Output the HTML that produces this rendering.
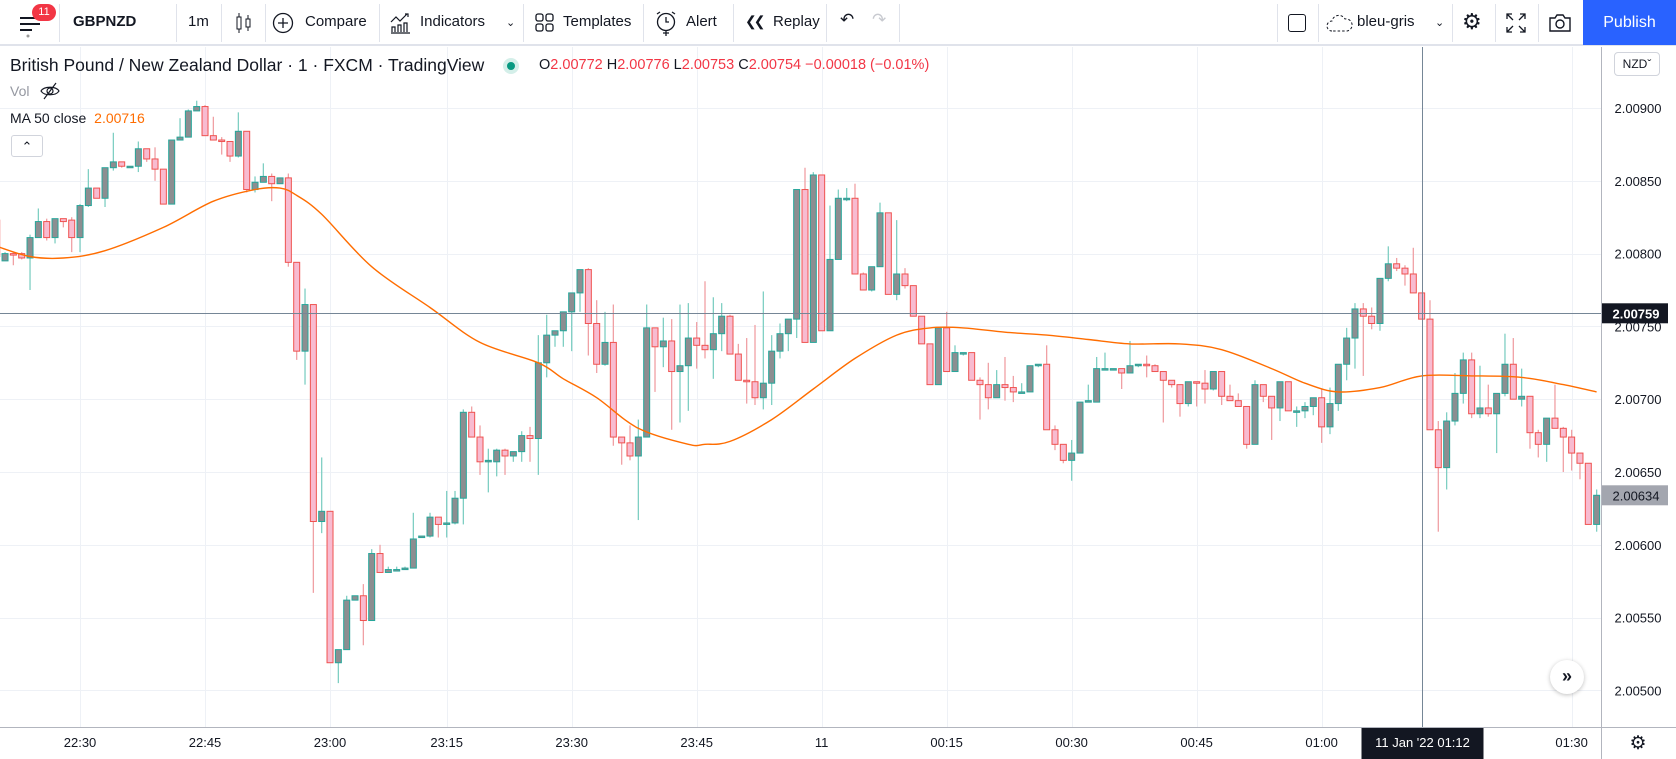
<!DOCTYPE html>
<html><head><meta charset="utf-8"><style>
*{margin:0;padding:0;box-sizing:border-box}
body{width:1676px;height:759px;overflow:hidden;background:#fff;font-family:"Liberation Sans",sans-serif;color:#131722;position:relative}
.tb{position:absolute;left:0;top:0;width:1676px;height:46px;border-bottom:2px solid #e0e3eb;background:#fff}
.sep{position:absolute;top:4px;width:1px;height:38px;background:#e0e3eb}
.t{position:absolute;top:13px;font-size:15px;white-space:nowrap}
.ic{position:absolute}
</style></head><body>
<div class="tb">
  <svg class="ic" style="left:18px;top:12px" width="24" height="26"><path d="M2 6h16M2 12h20M2 18h12" stroke="#131722" stroke-width="2"/><circle cx="10" cy="24" r="1.5" fill="#999"/></svg>
  <div style="position:absolute;left:32px;top:4px;width:24px;height:17px;border-radius:9px;background:#f23645;color:#fff;font-size:11px;text-align:center;line-height:17px">11</div>
  <div class="sep" style="left:59px"></div>
  <div class="t" style="left:73px;font-weight:bold">GBPNZD</div>
  <div class="sep" style="left:176px"></div>
  <div class="t" style="left:188px">1m</div>
  <div class="sep" style="left:221px"></div>
  <svg class="ic" style="left:234px;top:12px" width="20" height="22"><rect x="3" y="5" width="4" height="12" fill="none" stroke="#131722"/><path d="M5 1v4M5 17v4M14 3v4M14 15v4" stroke="#131722"/><rect x="12" y="7" width="4" height="8" fill="none" stroke="#131722"/></svg>
  <div class="sep" style="left:265px"></div>
  <svg class="ic" style="left:272px;top:12px" width="22" height="22"><circle cx="11" cy="11" r="9.5" fill="none" stroke="#131722" stroke-width="1.3"/><path d="M11 6v10M6 11h10" stroke="#131722" stroke-width="1.3"/></svg>
  <div class="t" style="left:305px">Compare</div>
  <div class="sep" style="left:379px"></div>
  <svg class="ic" style="left:390px;top:12px" width="22" height="22"><path d="M1 10l5-5 4 4 7-7M15 2h3v3" stroke="#131722" fill="none" stroke-width="1.2"/><path d="M2 20v-5h3v5M8 20v-7h3v7M14 20v-9h3v9M1 21h19" stroke="#131722" fill="none" stroke-width="1.2"/></svg>
  <div class="t" style="left:420px">Indicators</div>
  <div class="t" style="left:506px;font-size:11px;top:16px">&#8964;</div>
  <div class="sep" style="left:523px"></div>
  <svg class="ic" style="left:535px;top:13px" width="20" height="20"><rect x="1" y="1" width="7" height="7" rx="2" fill="none" stroke="#131722" stroke-width="1.3"/><rect x="11" y="1" width="7" height="7" rx="2" fill="none" stroke="#131722" stroke-width="1.3"/><rect x="1" y="11" width="7" height="7" rx="2" fill="none" stroke="#131722" stroke-width="1.3"/><rect x="11" y="11" width="7" height="7" rx="2" fill="none" stroke="#131722" stroke-width="1.3"/></svg>
  <div class="t" style="left:563px">Templates</div>
  <div class="sep" style="left:643px"></div>
  <svg class="ic" style="left:655px;top:11px" width="24" height="26"><circle cx="11" cy="11" r="8.5" fill="none" stroke="#131722" stroke-width="1.3"/><path d="M11 6v5h3M2 3l3-2M20 3l-3-2M11 19v6M8 22h6" stroke="#131722" fill="none" stroke-width="1.3"/></svg>
  <div class="t" style="left:686px">Alert</div>
  <div class="sep" style="left:733px"></div>
  <div class="t" style="left:745px;font-size:14px;letter-spacing:-3px">&#10094;&#10094;</div>
  <div class="t" style="left:773px">Replay</div>
  <div class="sep" style="left:826px"></div>
  <div class="t" style="left:840px;font-size:17px;top:10px">&#8630;</div>
  <div class="t" style="left:872px;font-size:17px;top:10px;color:#c8cad0">&#8631;</div>
  <div class="sep" style="left:899px"></div>
  <div class="sep" style="left:1277px"></div>
  <div style="position:absolute;left:1288px;top:14px;width:18px;height:18px;border:1.5px solid #131722;border-radius:3px"></div>
  <div class="sep" style="left:1318px"></div>
  <svg class="ic" style="left:1326px;top:12px" width="28" height="22"><path d="M6 19a5 5 0 0 1 0-10a7 7 0 0 1 13-2a6 6 0 0 1 2 12z" fill="none" stroke="#131722" stroke-dasharray="2.5 2"/></svg>
  <div class="t" style="left:1357px">bleu-gris</div>
  <div class="t" style="left:1435px;font-size:11px;top:16px">&#8964;</div>
  <div class="sep" style="left:1452px"></div>
  <div class="t" style="left:1462px;font-size:22px;top:9px">&#9881;</div>
  <div class="sep" style="left:1495px"></div>
  <svg class="ic" style="left:1506px;top:13px" width="20" height="20"><path d="M1 6V1h5M14 1h5v5M19 14v5h-5M6 19H1v-5M1 1l6 6M19 1l-6 6M19 19l-6-6M1 19l6-6" stroke="#131722" fill="none" stroke-width="1.3"/></svg>
  <div class="sep" style="left:1538px"></div>
  <svg class="ic" style="left:1548px;top:12px" width="24" height="22"><path d="M2 6h5l2-3h6l2 3h5v13H2z" fill="none" stroke="#131722" stroke-width="1.4"/><circle cx="12" cy="12" r="4" fill="none" stroke="#131722" stroke-width="1.4"/></svg>
  <div style="position:absolute;left:1583px;top:0;width:93px;height:45px;background:#2962ff;color:#fff;font-size:16px;text-align:center;line-height:45px">Publish</div>
</div>

<svg id="chart" style="position:absolute;left:0;top:47px" width="1676" height="712"></svg>

<div style="position:absolute;left:10px;top:55px;font-size:17.5px;color:#131722;white-space:nowrap">British Pound / New Zealand Dollar · 1 · FXCM · TradingView</div>
<div style="position:absolute;left:503px;top:58px;width:16px;height:16px;border-radius:8px;background:#d4efe9"><div style="margin:4px;width:8px;height:8px;border-radius:4px;background:#089981"></div></div>
<div style="position:absolute;left:539px;top:57px;font-size:14.5px;color:#f23645;white-space:nowrap"><span style="color:#131722">O</span>2.00772 <span style="color:#131722">H</span>2.00776 <span style="color:#131722">L</span>2.00753 <span style="color:#131722">C</span>2.00754 −0.00018 (−0.01%)</div>
<div style="position:absolute;left:10px;top:83px;font-size:14px;color:#9598a1">Vol</div>
<svg style="position:absolute;left:40px;top:82px" width="20" height="18"><path d="M1 9c3-5 15-5 18 0c-3 5-15 5-18 0z" fill="none" stroke="#131722" stroke-width="1.2"/><circle cx="10" cy="9" r="3" fill="none" stroke="#131722" stroke-width="1.2"/><path d="M4 17L16 1" stroke="#131722" stroke-width="1.2"/></svg>
<div style="position:absolute;left:10px;top:110px;font-size:14px;white-space:nowrap">MA 50 close <span style="color:#ff6d00;margin-left:4px">2.00716</span></div>
<div style="position:absolute;left:11px;top:135px;width:32px;height:22px;border:1px solid #d1d4dc;border-radius:3px;background:#fff;text-align:center;font-size:13px;line-height:22px">&#8963;</div>
<div style="position:absolute;left:1614px;top:52px;width:46px;height:24px;border:1px solid #d1d4dc;border-radius:4px;background:#fff;font-size:12px;line-height:22px;text-align:center">NZD&#711;</div>
<div style="position:absolute;left:1550px;top:660px;width:34px;height:34px;border-radius:17px;background:#fff;box-shadow:0 1px 4px rgba(0,0,0,.25);text-align:center;line-height:32px;font-size:18px;font-weight:bold;color:#131722">&#187;</div>

<script>
const opens=[2.00823,2.00795,2.00800,2.00800,2.00797,2.00811,2.00822,2.00811,2.00824,2.00823,2.00811,2.00833,2.00845,2.00838,2.00859,2.00863,2.00860,2.00860,2.00872,2.00865,2.00858,2.00834,2.00878,2.00880,2.00898,2.00901,2.00881,2.00878,2.00877,2.00867,2.00884,2.00844,2.00849,2.00853,2.00848,2.00852,2.00794,2.00733,2.00765,2.00616,2.00623,2.00519,2.00528,2.00562,2.00565,2.00548,2.00594,2.00581,2.00583,2.00583,2.00584,2.00605,2.00606,2.00619,2.00614,2.00615,2.00632,2.00691,2.00674,2.00657,2.00657,2.00665,2.00661,2.00664,2.00675,2.00673,2.00725,2.00744,2.00747,2.00760,2.00773,2.00789,2.00752,2.00724,2.00739,2.00674,2.00670,2.00661,2.00674,2.00749,2.00736,2.00740,2.00719,2.00723,2.00742,2.00737,2.00734,2.00745,2.00757,2.00731,2.00713,2.00712,2.00701,2.00711,2.00733,2.00745,2.00755,2.00844,2.00739,2.00854,2.00747,2.00796,2.00838,2.00838,2.00786,2.00775,2.00791,2.00828,2.00772,2.00786,2.00778,2.00757,2.00738,2.00710,2.00749,2.00719,2.00732,2.00732,2.00713,2.00710,2.00701,2.00710,2.00708,2.00705,2.00705,2.00723,2.00724,2.00679,2.00669,2.00658,2.00663,2.00698,2.00698,2.00721,2.00721,2.00721,2.00718,2.00723,2.00724,2.00723,2.00719,2.00713,2.00710,2.00697,2.00712,2.00711,2.00707,2.00719,2.00702,2.00699,2.00695,2.00669,2.00710,2.00702,2.00694,2.00712,2.00692,2.00692,2.00695,2.00701,2.00681,2.00697,2.00724,2.00742,2.00762,2.00757,2.00752,2.00783,2.00793,2.00790,2.00786,2.00773,2.00755,2.00679,2.00653,2.00685,2.00704,2.00727,2.00690,2.00694,2.00690,2.00704,2.00724,2.00700,2.00702,2.00677,2.00669,2.00687,2.00680,2.00674,2.00663,2.00656,2.00614];
const highs=[2.00825,2.00801,2.00801,2.00801,2.00813,2.00831,2.00824,2.00824,2.00824,2.00825,2.00834,2.00858,2.00845,2.00859,2.00883,2.00863,2.00860,2.00877,2.00872,2.00873,2.00858,2.00878,2.00893,2.00899,2.00905,2.00902,2.00894,2.00880,2.00877,2.00897,2.00884,2.00853,2.00862,2.00855,2.00852,2.00855,2.00794,2.00776,2.00765,2.00660,2.00623,2.00528,2.00565,2.00565,2.00573,2.00597,2.00600,2.00585,2.00585,2.00585,2.00622,2.00606,2.00622,2.00619,2.00637,2.00637,2.00693,2.00695,2.00682,2.00666,2.00666,2.00666,2.00664,2.00678,2.00681,2.00744,2.00758,2.00747,2.00760,2.00773,2.00789,2.00790,2.00768,2.00760,2.00765,2.00674,2.00682,2.00686,2.00765,2.00749,2.00756,2.00755,2.00765,2.00766,2.00753,2.00781,2.00770,2.00766,2.00758,2.00738,2.00742,2.00751,2.00774,2.00744,2.00752,2.00755,2.00844,2.00859,2.00856,2.00854,2.00833,2.00844,2.00845,2.00848,2.00787,2.00791,2.00835,2.00828,2.00823,2.00790,2.00778,2.00757,2.00738,2.00749,2.00760,2.00737,2.00732,2.00732,2.00715,2.00725,2.00720,2.00729,2.00716,2.00711,2.00723,2.00724,2.00737,2.00682,2.00669,2.00672,2.00698,2.00710,2.00729,2.00732,2.00721,2.00721,2.00740,2.00724,2.00730,2.00724,2.00719,2.00713,2.00710,2.00712,2.00712,2.00720,2.00719,2.00719,2.00710,2.00704,2.00695,2.00713,2.00710,2.00702,2.00712,2.00712,2.00695,2.00698,2.00701,2.00707,2.00708,2.00724,2.00749,2.00766,2.00766,2.00763,2.00783,2.00805,2.00797,2.00792,2.00804,2.00773,2.00768,2.00685,2.00691,2.00718,2.00732,2.00732,2.00723,2.00710,2.00704,2.00745,2.00742,2.00721,2.00702,2.00679,2.00687,2.00710,2.00681,2.00679,2.00663,2.00656,2.00638];
const lows=[2.00795,2.00795,2.00792,2.00796,2.00775,2.00811,2.00809,2.00807,2.00818,2.00801,2.00801,2.00832,2.00838,2.00832,2.00857,2.00859,2.00860,2.00856,2.00863,2.00850,2.00834,2.00834,2.00878,2.00880,2.00898,2.00881,2.00878,2.00868,2.00863,2.00866,2.00842,2.00842,2.00849,2.00836,2.00848,2.00791,2.00727,2.00710,2.00567,2.00608,2.00519,2.00505,2.00528,2.00562,2.00531,2.00548,2.00581,2.00581,2.00583,2.00583,2.00584,2.00605,2.00605,2.00605,2.00605,2.00614,2.00614,2.00674,2.00648,2.00636,2.00647,2.00648,2.00657,2.00657,2.00657,2.00648,2.00715,2.00736,2.00736,2.00733,2.00760,2.00730,2.00718,2.00723,2.00668,2.00655,2.00658,2.00617,2.00674,2.00705,2.00722,2.00679,2.00684,2.00692,2.00721,2.00728,2.00714,2.00733,2.00731,2.00713,2.00697,2.00696,2.00693,2.00696,2.00728,2.00733,2.00742,2.00739,2.00739,2.00747,2.00747,2.00796,2.00836,2.00786,2.00775,2.00774,2.00791,2.00772,2.00768,2.00776,2.00757,2.00738,2.00710,2.00710,2.00719,2.00719,2.00730,2.00713,2.00686,2.00693,2.00701,2.00699,2.00698,2.00705,2.00705,2.00722,2.00679,2.00665,2.00656,2.00644,2.00663,2.00698,2.00698,2.00720,2.00721,2.00707,2.00718,2.00722,2.00715,2.00719,2.00684,2.00708,2.00688,2.00695,2.00695,2.00697,2.00706,2.00696,2.00699,2.00695,2.00666,2.00669,2.00698,2.00672,2.00685,2.00692,2.00681,2.00687,2.00689,2.00670,2.00676,2.00692,2.00713,2.00721,2.00716,2.00748,2.00747,2.00781,2.00788,2.00778,2.00773,2.00755,2.00679,2.00609,2.00638,2.00682,2.00697,2.00687,2.00687,2.00688,2.00663,2.00702,2.00700,2.00695,2.00666,2.00660,2.00657,2.00680,2.00650,2.00651,2.00645,2.00614,2.00609];
const closes=[2.00798,2.00800,2.00799,2.00797,2.00811,2.00822,2.00811,2.00824,2.00822,2.00811,2.00833,2.00845,2.00838,2.00859,2.00863,2.00860,2.00860,2.00872,2.00865,2.00858,2.00834,2.00878,2.00880,2.00898,2.00901,2.00881,2.00878,2.00877,2.00867,2.00884,2.00844,2.00849,2.00853,2.00848,2.00852,2.00794,2.00733,2.00765,2.00616,2.00623,2.00519,2.00528,2.00562,2.00565,2.00548,2.00594,2.00581,2.00583,2.00583,2.00584,2.00604,2.00606,2.00619,2.00614,2.00615,2.00632,2.00691,2.00674,2.00657,2.00658,2.00665,2.00661,2.00664,2.00675,2.00673,2.00725,2.00744,2.00747,2.00760,2.00773,2.00789,2.00752,2.00724,2.00739,2.00674,2.00670,2.00661,2.00674,2.00749,2.00736,2.00740,2.00719,2.00723,2.00742,2.00737,2.00734,2.00745,2.00757,2.00731,2.00713,2.00712,2.00701,2.00711,2.00733,2.00745,2.00755,2.00844,2.00739,2.00854,2.00747,2.00796,2.00838,2.00838,2.00786,2.00775,2.00791,2.00828,2.00772,2.00786,2.00778,2.00757,2.00738,2.00710,2.00749,2.00719,2.00732,2.00732,2.00713,2.00710,2.00701,2.00710,2.00708,2.00705,2.00705,2.00723,2.00724,2.00679,2.00669,2.00658,2.00663,2.00698,2.00699,2.00721,2.00721,2.00721,2.00718,2.00723,2.00724,2.00723,2.00719,2.00713,2.00710,2.00697,2.00712,2.00711,2.00707,2.00719,2.00702,2.00699,2.00695,2.00669,2.00710,2.00702,2.00694,2.00712,2.00692,2.00692,2.00695,2.00701,2.00681,2.00697,2.00724,2.00742,2.00762,2.00757,2.00752,2.00783,2.00793,2.00790,2.00786,2.00773,2.00755,2.00679,2.00653,2.00685,2.00704,2.00727,2.00690,2.00694,2.00690,2.00704,2.00724,2.00700,2.00702,2.00677,2.00669,2.00687,2.00680,2.00674,2.00663,2.00656,2.00614,2.00634];
const maIndex=[0,4,8,13,20,26,31,34,36,39,45,52,58,65,68,72,77,83,85,88,93,98,103,108,112,116,121,126,131,136,142,147,153,157,161,166,171,177,183,188,192];
const maValues=[2.00805,2.00798,2.00797,2.00802,2.00818,2.00836,2.00844,2.00845,2.00840,2.00827,2.00791,2.00763,2.00739,2.00725,2.00714,2.00701,2.00680,2.00669,2.00669,2.00671,2.00686,2.00707,2.00728,2.00744,2.00749,2.00749,2.00746,2.00744,2.00741,2.00738,2.00738,2.00734,2.00721,2.00711,2.00705,2.00708,2.00716,2.00716,2.00715,2.00710,2.00705];
const priceTicks=[2.00900,2.00850,2.00800,2.00750,2.00700,2.00650,2.00600,2.00550,2.00500];
const timeLabels=["22:30","22:45","23:00","23:15","23:30","23:45","11","00:15","00:30","00:45","01:00","01:30"];
const timeLabelIndex=[10,25,40,54,69,84,99,114,129,144,159,189];
const crossPrice=2.00759, crossIndex=171, lastPrice=2.00634;

const OFF=47;
const yOf=p=>108-OFF+(2.009-p)/0.0005*72.8;
const xOf=i=>-3.3+i*8.333;
const NS="http://www.w3.org/2000/svg";
const svg=document.getElementById('chart');
function mk(tag,attrs){const e=document.createElementNS(NS,tag);for(const k in attrs)e.setAttribute(k,attrs[k]);return e;}
const PW=1601, AX=727-OFF;
const gGrid=mk('g',{});


svg.appendChild(gGrid);
for(let p=2.0095;p>=2.0045;p-=0.0005){const y=Math.round(yOf(p))+0.5;if(y<0||y>AX)continue;gGrid.appendChild(mk('line',{x1:0,x2:PW,y1:y,y2:y,stroke:'#eef1f6'}));}
timeLabelIndex.forEach(i=>{const x=Math.round(xOf(i))+0.5;gGrid.appendChild(mk('line',{x1:x,x2:x,y1:0,y2:AX,stroke:'#eef1f6'}));});
const gC=mk('g',{});


svg.appendChild(gC);
for(let i=0;i<opens.length;i++){
  const up=closes[i]>=opens[i];const x=xOf(i);
  const w=mk('line',{x1:x,x2:x,y1:yOf(highs[i]),y2:yOf(lows[i]),stroke:up?'#7fcfc3':'#f0a0a4','stroke-width':1.3});
  
  
  gC.appendChild(w);
  const yt=yOf(Math.max(opens[i],closes[i])),yb=yOf(Math.min(opens[i],closes[i]));
  const b=mk('rect',{x:x-3,y:yt,width:6,height:Math.max(1.5,yb-yt),fill:up?'#8c8e91':'#f8bbd0',stroke:up?'#26a69a':'#ef5350','stroke-width':1});
  
  
  gC.appendChild(b);
}
// MA line (smooth Catmull-Rom through read points)
const pts=maIndex.map((ix,k)=>[xOf(ix),yOf(maValues[k])]);
let d='M'+pts[0][0].toFixed(1)+' '+pts[0][1].toFixed(1);
for(let k=0;k<pts.length-1;k++){
  const p0=pts[Math.max(0,k-1)],p1=pts[k],p2=pts[k+1],p3=pts[Math.min(pts.length-1,k+2)];
  const c1x=p1[0]+(p2[0]-p0[0])/6,c1y=p1[1]+(p2[1]-p0[1])/6,c2x=p2[0]-(p3[0]-p1[0])/6,c2y=p2[1]-(p3[1]-p1[1])/6;
  d+='C'+c1x.toFixed(1)+' '+c1y.toFixed(1)+' '+c2x.toFixed(1)+' '+c2y.toFixed(1)+' '+p2[0].toFixed(1)+' '+p2[1].toFixed(1);
}
const ma=mk('path',{d:d,fill:'none',stroke:'#ff6d00','stroke-width':1.4,'stroke-linejoin':'round'});


svg.appendChild(ma);
const cy=Math.round(yOf(crossPrice))+0.5, cx=Math.round(xOf(crossIndex))+0.5;
const ch=mk('line',{x1:0,x2:PW,y1:cy,y2:cy,stroke:'#758696'});


svg.appendChild(ch);
const cv=mk('line',{x1:cx,x2:cx,y1:0,y2:AX,stroke:'#758696'});


svg.appendChild(cv);
const ax=mk('rect',{x:PW,y:0,width:1676-PW,height:712,fill:'#fff'});


svg.appendChild(ax);
svg.appendChild(mk('line',{x1:PW+0.5,x2:PW+0.5,y1:0,y2:712,stroke:'#b2b5be'}));
const ta=mk('rect',{x:0,y:AX,width:PW,height:712-AX,fill:'#fff'});


svg.appendChild(ta);
svg.appendChild(mk('line',{x1:0,x2:1676,y1:AX+0.5,y2:AX+0.5,stroke:'#b2b5be'}));
priceTicks.forEach(p=>{const t=mk('text',{x:1638,y:yOf(p)+5,'text-anchor':'middle','font-size':13,fill:'#131722','font-family':'Liberation Sans, sans-serif'});t.textContent=p.toFixed(5);
  
  
  svg.appendChild(t);});
timeLabels.forEach((s,k)=>{const t=mk('text',{x:xOf(timeLabelIndex[k]),y:AX+20,'text-anchor':'middle','font-size':13,fill:'#131722','font-family':'Liberation Sans, sans-serif'});t.textContent=s;
  
  
  svg.appendChild(t);});
function badge(y,txt,bg,name){const r=mk('rect',{x:PW+1,y:y-10,width:66,height:20,fill:bg});
  
  
  svg.appendChild(r);
  const t=mk('text',{x:1636,y:y+5,'text-anchor':'middle','font-size':13,'font-weight':bg=='#131722'?'bold':'normal',fill:bg=='#131722'?'#fff':'#131722','font-family':'Liberation Sans, sans-serif'});t.textContent=txt;svg.appendChild(t);}
badge(yOf(crossPrice),crossPrice.toFixed(5),'#131722','crosshair-price-label');
badge(yOf(lastPrice),lastPrice.toFixed(5),'#a3a6af','last-price-label');
const tb=mk('rect',{x:cx-61,y:AX+1,width:122,height:712-AX-1,fill:'#131722'});


svg.appendChild(tb);
const tt=mk('text',{x:cx,y:AX+20,'text-anchor':'middle','font-size':13,fill:'#fff','font-family':'Liberation Sans, sans-serif'});tt.textContent="11 Jan '22   01:12";svg.appendChild(tt);
const gear=mk('text',{x:1638,y:AX+22,'text-anchor':'middle','font-size':19,fill:'#131722'});gear.textContent='\u2699';


svg.appendChild(gear);
</script>
</body></html>
